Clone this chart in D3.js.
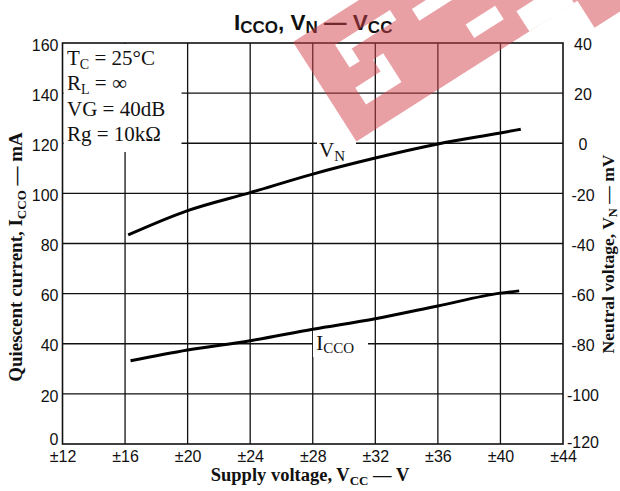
<!DOCTYPE html>
<html>
<head>
<meta charset="utf-8">
<script src="https://cdn.jsdelivr.net/npm/d3@7"></script>
<style>
  body { margin: 0; background: #fff; }
  svg { display: block; }
  .axis text { font-family: "Liberation Sans", Arial, sans-serif; font-size: 16px; fill: #111; }
  .serif { font-family: "Liberation Serif", "Times New Roman", serif; fill: #111; }
</style>
</head>
<body>
<svg id="chart" width="620" height="491"></svg>
<script>
// ICCO, VN -- VCC characteristic

var vccTicks = [12, 16, 20, 24, 28, 32, 36, 40, 44];
var iccoTicks = [0, 20, 40, 60, 80, 100, 120, 140, 160];
var vnTicks = [-120, -100, -80, -60, -40, -20, 0, 20, 40];

// neutral voltage, mV (right axis)
var vnVcc = [16.2, 20, 24, 28, 32, 36, 40, 41.3];
var vnValues = [-36.6, -26.9, -19.7, -12.3, -5.9, -0.3, 4.1, 5.6];

// quiescent current, mA (left axis)
var iccoVcc = [16.35, 20, 24, 28, 32, 36, 40, 41.2];
var iccoValues = [33.2, 37.5, 41.2, 45.8, 50.0, 55.1, 60.2, 61.1];

// [main, subscript, rest]
var conditions = [
  ["T", "C", " = 25°C"],
  ["R", "L", " = ∞"],
  ["VG = 40dB", "", ""],
  ["Rg = 10kΩ", "", ""]
];

var svg = d3.select("#chart");

var x = d3.scaleLinear().domain([12, 44]).range([62.5, 563]);
var yI = d3.scaleLinear().domain([0, 160]).range([444, 43]);
var yV = d3.scaleLinear().domain([-120, 40]).range([444, 43]);

///////////////////////////////////////////////////////////////////////////////
// Grid and frame

var grid = svg.append("g").attr("stroke", "#111").attr("stroke-width", 1.3);

grid.selectAll("line.v")
  .data(vccTicks.slice(1, -1))
  .enter().append("line")
  .attr("x1", function (d) { return x(d); })
  .attr("x2", function (d) { return x(d); })
  .attr("y1", yI(160)).attr("y2", yI(0));

grid.selectAll("line.h")
  .data(iccoTicks.slice(1, -1))
  .enter().append("line")
  .attr("x1", x(12)).attr("x2", x(44))
  .attr("y1", function (d) { return yI(d); })
  .attr("y2", function (d) { return yI(d); });

// blank out the grid under the conditions block and the curve labels
svg.append("rect").attr("fill", "#fff")
  .attr("x", x(12) + 1).attr("y", yI(160) + 1)
  .attr("width", 118).attr("height", 108);
svg.append("rect").attr("fill", "#fff")
  .attr("x", 317).attr("y", 141).attr("width", 39).attr("height", 24);
svg.append("rect").attr("fill", "#fff")
  .attr("x", 313).attr("y", 330).attr("width", 55).attr("height", 27);

svg.append("rect")
  .attr("x", x(12)).attr("y", yI(160))
  .attr("width", x(44) - x(12)).attr("height", yI(0) - yI(160))
  .attr("fill", "none").attr("stroke", "#111").attr("stroke-width", 1.6);

///////////////////////////////////////////////////////////////////////////////
// Axes

svg.append("g").attr("class", "axis")
  .attr("transform", "translate(" + x(12) + ",0)")
  .call(d3.axisLeft(yI).tickValues(iccoTicks).tickSize(0).tickPadding(4))
  .call(function (g) { g.select(".domain").remove(); })
  .selectAll("text")
  .attr("dy", function (d) { return d === 0 ? "0.05em" : "0.45em"; });

svg.append("g").attr("class", "axis")
  .attr("transform", "translate(" + x(44) + ",0)")
  .call(d3.axisRight(yV).tickValues(vnTicks).tickSize(0)
    .tickFormat(function (d) { return String(d); }))
  .call(function (g) { g.select(".domain").remove(); })
  .selectAll("text").attr("x", 20)
  .attr("dy", function (d) { return d === -120 ? "0.2em" : "0.42em"; })
  .attr("text-anchor", "middle");

svg.append("g").attr("class", "axis")
  .attr("transform", "translate(0," + yI(0) + ")")
  .call(d3.axisBottom(x).tickValues(vccTicks).tickSize(0).tickPadding(7)
    .tickFormat(function (d) { return "±" + d; }))
  .call(function (g) { g.select(".domain").remove(); });

///////////////////////////////////////////////////////////////////////////////
// Curves

var vnLine = d3.line()
  .x(function (d) { return x(d[0]); })
  .y(function (d) { return yV(d[1]); })
  .curve(d3.curveMonotoneX);

var iccoLine = d3.line()
  .x(function (d) { return x(d[0]); })
  .y(function (d) { return yI(d[1]); })
  .curve(d3.curveMonotoneX);

svg.append("path")
  .attr("d", vnLine(d3.zip(vnVcc, vnValues)))
  .attr("fill", "none").attr("stroke", "#000").attr("stroke-width", 3);

svg.append("path")
  .attr("d", iccoLine(d3.zip(iccoVcc, iccoValues)))
  .attr("fill", "none").attr("stroke", "#000").attr("stroke-width", 3);

///////////////////////////////////////////////////////////////////////////////
// Texts

var vnLabel = svg.append("text").attr("class", "serif")
  .attr("x", 319).attr("y", 157).attr("font-size", 21);
vnLabel.append("tspan").text("V");
vnLabel.append("tspan").attr("font-size", 15).attr("dy", 4).text("N");

var iccoLabel = svg.append("text").attr("class", "serif")
  .attr("x", 316).attr("y", 350).attr("font-size", 22);
iccoLabel.append("tspan").text("I");
iccoLabel.append("tspan").attr("font-size", 15).attr("dy", 3).text("CCO");

var cond = svg.append("g").attr("class", "serif").attr("font-size", 21);
conditions.forEach(function (c, i) {
  var t = cond.append("text").attr("x", 67).attr("y", 65 + i * 25.3);
  t.append("tspan").text(c[0]);
  if (c[1]) {
    t.append("tspan").attr("font-size", 14).attr("dy", 3.5).text(c[1]);
    t.append("tspan").attr("dy", -3.5).text(c[2]);
  }
});

var title = svg.append("text")
  .attr("x", 234).attr("y", 30)
  .attr("font-family", "'Liberation Sans', Arial, sans-serif")
  .attr("font-size", 22.5).attr("font-weight", "bold").attr("fill", "#111");
title.append("tspan").text("I");
title.append("tspan").attr("font-size", 17).attr("dy", 3).text("CCO");
title.append("tspan").attr("dy", -3).text(", V");
title.append("tspan").attr("font-size", 17).attr("dy", 3).text("N");
title.append("tspan").attr("dy", -3).text(" — V");
title.append("tspan").attr("font-size", 17).attr("dy", 3).text("CC");

var xTitle = svg.append("text").attr("class", "serif")
  .attr("x", 310).attr("y", 481).attr("text-anchor", "middle")
  .attr("font-size", 18.5).attr("font-weight", "bold");
xTitle.append("tspan").text("Supply voltage, V");
xTitle.append("tspan").attr("font-size", 13).attr("dy", 4).text("CC");
xTitle.append("tspan").attr("dy", -4).text(" — V");

var yTitle = svg.append("text").attr("class", "serif")
  .attr("transform", "translate(22,257) rotate(-90)")
  .attr("text-anchor", "middle")
  .attr("font-size", 19).attr("font-weight", "bold");
yTitle.append("tspan").text("Quiescent current, I");
yTitle.append("tspan").attr("font-size", 13).attr("dy", 4).text("CCO");
yTitle.append("tspan").attr("dy", -4).text(" — mA");

var y2Title = svg.append("text").attr("class", "serif")
  .attr("transform", "translate(614,254) rotate(-90)")
  .attr("text-anchor", "middle")
  .attr("font-size", 17.5).attr("font-weight", "bold");
y2Title.append("tspan").text("Neutral voltage, V");
y2Title.append("tspan").attr("font-size", 12.5).attr("dy", 3).text("N");
y2Title.append("tspan").attr("dy", -3).text(" — mV");

///////////////////////////////////////////////////////////////////////////////
// Watermark (tilted band with cut-outs)

var rectPath = function (p, u0, v0, u1, v1) {
  p.moveTo(u0, v0); p.lineTo(u1, v0); p.lineTo(u1, v1); p.lineTo(u0, v1); p.closePath();
};

var mark = d3.path();
rectPath(mark, 0, 0, 360, 118);
rectPath(mark, 262, 118, 360, 150);
rectPath(mark, 34, 25, 99, 37);
rectPath(mark, 34, 37, 46, 52);
rectPath(mark, 28, 72, 70, 92);
rectPath(mark, 58, 58, 70, 72);
rectPath(mark, 118, 36, 220, 50);
rectPath(mark, 155, 78, 190, 94);
rectPath(mark, 205, 94, 258, 118);

svg.append("path")
  .attr("d", mark.toString())
  .attr("transform", "translate(293,42) rotate(-32.5)")
  .attr("fill", "rgb(211,65,75)").attr("fill-opacity", 0.5)
  .attr("fill-rule", "evenodd");
</script>
</body>
</html>
